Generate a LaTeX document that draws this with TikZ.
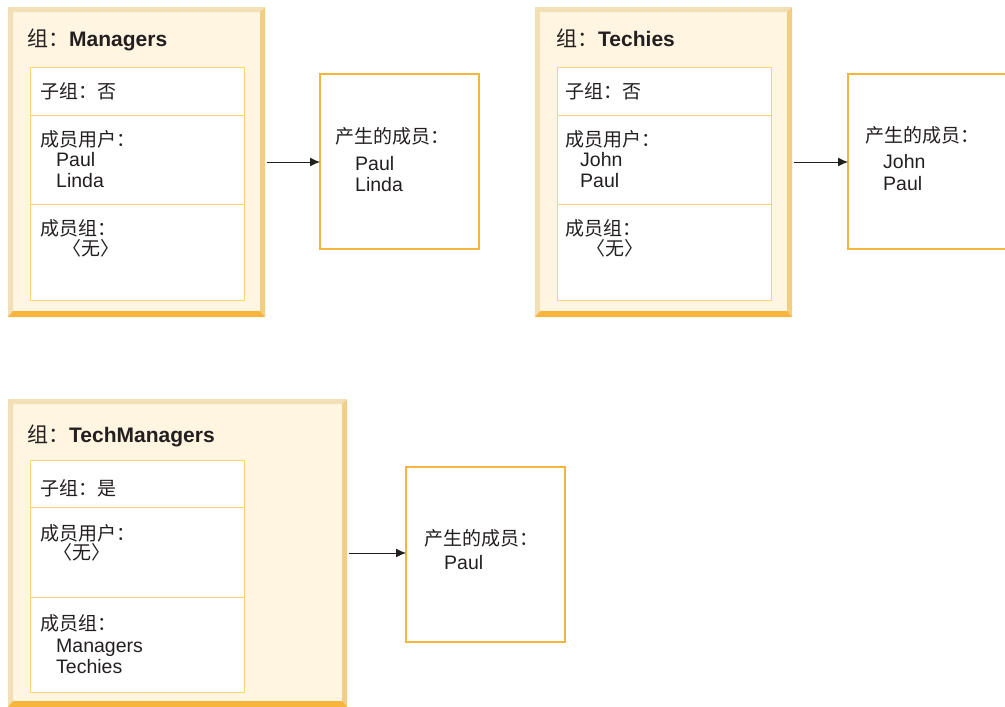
\documentclass[tikz,border=0pt]{standalone}
\usepackage{fontspec}
\setmainfont{Liberation Sans}
\newfontfamily\cjk{Noto Sans CJK SC}
\usetikzlibrary{calc,arrows.meta}

\definecolor{grpfill}{HTML}{FFF5E1}
\definecolor{bevlt}{HTML}{F3DFB6}
\definecolor{bevmd}{HTML}{F4CD85}
\definecolor{bevdk}{HTML}{F7B63B}
\definecolor{cellline}{HTML}{FDD27A}
\definecolor{resline}{HTML}{F5B43C}
\definecolor{ink}{HTML}{231F20}

\newcommand{\zh}[1]{{\cjk\fontsize{19}{22}\selectfont #1}}
\newcommand{\zhbig}[1]{{\cjk\fontsize{21}{24}\selectfont #1}}
% bevelled frame round a group node
\newcommand{\bevel}[1]{
  \fill[bevlt] (#1.north west) -- (#1.north east) -- ($(#1.north east)+(-5,5)$) -- ($(#1.north west)+(5,5)$) -- cycle;
  \fill[bevlt] (#1.north west) -- ($(#1.north west)+(5,5)$) -- ($(#1.south west)+(5,-6)$) -- (#1.south west) -- cycle;
  \fill[bevmd] (#1.north east) -- (#1.south east) -- ($(#1.south east)+(-5,-6)$) -- ($(#1.north east)+(-5,5)$) -- cycle;
  \fill[bevdk] (#1.south west) -- (#1.south east) -- ($(#1.south east)+(-5,-6)$) -- ($(#1.south west)+(5,-6)$) -- cycle;
}

\begin{document}
\begin{tikzpicture}[x=1pt,y=-1pt,
    grp/.style={rectangle,fill=grpfill,inner sep=0,outer sep=0},
    cell/.style={draw=cellline,line width=1pt,fill=white},
    res/.style={rectangle,draw=resline,line width=1.6pt,fill=white,inner sep=0,outer sep=0,
      minimum width=159pt,minimum height=175pt},
    ttl/.style={anchor=base west,inner sep=0,text=ink,font=\fontsize{21}{24}\selectfont},
    txt/.style={anchor=base west,inner sep=0,text=ink,font=\fontsize{19.5}{22}\selectfont},
    link/.style={draw=ink,line width=1pt,-{Latex[length=10pt,width=9pt]}}]
  \useasboundingbox (0,0) rectangle (1005,707);

  % Managers
  \node[grp,minimum width=257pt,minimum height=310pt] (g1) at (136.5,162) {};
  \bevel{g1}
  \node[ttl] (g1t) at (27,46) {\zhbig{组：}\textbf{Managers}};
  \draw[cell] (30,67) rectangle (244,300) (30,115) -- (244,115) (30,204) -- (244,204);
  \node[txt] (g1a) at (40,98) {\zh{子组：否}};
  \node[txt] (g1b) at (40,146) {\zh{成员用户：}};
  \node[txt] (g1c) at (56,166) {Paul};
  \node[txt] (g1d) at (56,187) {Linda};
  \node[txt] (g1e) at (40,235) {\zh{成员组：}};
  \node[txt] (g1f) at (62,255) {\zh{〈无〉}};

  % Techies
  \node[grp,minimum width=257pt,minimum height=310pt] (g2) at (663.5,162) {};
  \bevel{g2}
  \node[ttl] (g2t) at (556,46) {\zhbig{组：}\textbf{Techies}};
  \draw[cell] (557,67) rectangle (771,300) (557,115) -- (771,115) (557,204) -- (771,204);
  \node[txt] (g2a) at (565,98) {\zh{子组：否}};
  \node[txt] (g2b) at (565,146) {\zh{成员用户：}};
  \node[txt] (g2c) at (580,166) {John};
  \node[txt] (g2d) at (580,187) {Paul};
  \node[txt] (g2e) at (565,235) {\zh{成员组：}};
  \node[txt] (g2f) at (586,255) {\zh{〈无〉}};

  % TechManagers
  \node[grp,minimum width=339pt,minimum height=308pt] (g3) at (177.5,553) {};
  \bevel{g3}
  \node[ttl] (g3t) at (27,442) {\zhbig{组：}\textbf{TechManagers}};
  \draw[cell] (30,460) rectangle (244,692) (30,507) -- (244,507) (30,597) -- (244,597);
  \node[txt] (g3a) at (40,495) {\zh{子组：是}};
  \node[txt] (g3b) at (40,540) {\zh{成员用户：}};
  \node[txt] (g3c) at (53,559) {\zh{〈无〉}};
  \node[txt] (g3d) at (40,630) {\zh{成员组：}};
  \node[txt] (g3e) at (56,652) {Managers};
  \node[txt] (g3f) at (56,673) {Techies};

  % results
  \node[res] (r1) at (399.5,161.5) {};
  \node[txt] (r1a) at (335,143) {\zh{产生的成员：}};
  \node[txt] (r1b) at (355,170) {Paul};
  \node[txt] (r1c) at (355,191) {Linda};

  \node[res,minimum width=162pt] (r2) at (929,161.5) {};
  \node[txt] (r2a) at (865,142) {\zh{产生的成员：}};
  \node[txt] (r2b) at (883,168) {John};
  \node[txt] (r2c) at (883,190) {Paul};

  \node[res] (r3) at (485.5,554.5) {};
  \node[txt] (r3a) at (424,545) {\zh{产生的成员：}};
  \node[txt] (r3b) at (444,569) {Paul};

  \draw[link,shorten <=2pt] (g1.east) -- (g1.east -| r1.west);
  \draw[link,shorten <=2pt] (g2.east) -- (g2.east -| r2.west);
  \draw[link,shorten <=2pt] (g3.east) -- (g3.east -| r3.west);
\end{tikzpicture}
\end{document}
